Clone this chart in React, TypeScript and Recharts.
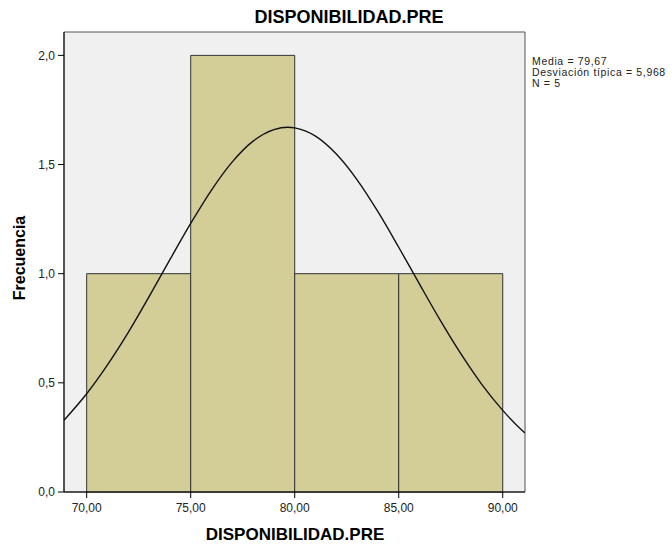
import React from 'react';
import { ComposedChart, Line, XAxis, YAxis, ReferenceArea } from 'recharts';

// Histogram bins (lower bound, upper bound, frequency)
const binStarts = [70, 75, 80, 85];
const binEnds = [75, 80, 85, 90];
const frequencies = [1, 2, 1, 1];

// Normal curve points (x, frequency)
const curveX = [68.91, 70, 71, 72, 73, 74, 75, 76, 77, 78, 79, 79.67, 80, 81, 82, 83, 84, 85, 86, 87, 88, 89, 90, 91, 91.07];
const curveY = [0.329, 0.45, 0.582, 0.731, 0.895, 1.064, 1.23, 1.383, 1.512, 1.607, 1.66, 1.671, 1.668, 1.63, 1.548, 1.43, 1.284, 1.121, 0.952, 0.786, 0.631, 0.492, 0.374, 0.276, 0.27];

const xTicks = [70, 75, 80, 85, 90];
const yTicks = [0, 0.5, 1, 1.5, 2];

const statsLines = ['Media = 79,67', 'Desviación típica = 5,968', 'N = 5'];
const chartTitle = 'DISPONIBILIDAD.PRE';
const xTitle = 'DISPONIBILIDAD.PRE';
const yTitle = 'Frecuencia';

const X_MIN = 68.91;
const X_MAX = 91.07;
const Y_MAX = 2.107;

const FONT = '"Liberation Sans", Arial, sans-serif';

const curveData = curveX.map((x, i) => ({ x, y: curveY[i] }));

export default function App() {
  return (
    <div style={{ position: 'fixed', left: 0, top: 0, width: 672, height: 548, background: '#fff' }}>
      <ComposedChart
        width={672}
        height={548}
        data={curveData}
        margin={{ top: 32, right: 147, bottom: 0, left: 0 }}
      >
        <XAxis
          dataKey="x"
          type="number"
          domain={[X_MIN, X_MAX]}
          allowDataOverflow
          ticks={xTicks}
          tickFormatter={(v: number) => v.toFixed(2).replace('.', ',')}
          height={56}
          tickSize={6}
          tickMargin={5}
          axisLine={{ stroke: '#000' }}
          tickLine={{ stroke: '#000' }}
          tick={{ fill: '#222', fontSize: 12, fontFamily: FONT }}
        />
        <YAxis
          type="number"
          domain={[0, Y_MAX]}
          allowDataOverflow
          ticks={yTicks}
          tickFormatter={(v: number) => v.toFixed(1).replace('.', ',')}
          width={64}
          tickSize={6}
          tickMargin={3}
          axisLine={{ stroke: '#000' }}
          tickLine={{ stroke: '#000' }}
          tick={{ fill: '#222', fontSize: 12, fontFamily: FONT }}
        />
        <ReferenceArea
          x1={X_MIN}
          x2={X_MAX}
          y1={0}
          y2={Y_MAX}
          fill="#F0F0F0"
          fillOpacity={1}
          stroke="#555"
          strokeWidth={1}
          ifOverflow="visible"
        />
        {binStarts.map((s, i) => (
          <ReferenceArea
            key={i}
            x1={s}
            x2={binEnds[i]}
            y1={0}
            y2={frequencies[i]}
            fill="#D3CE97"
            fillOpacity={1}
            stroke="#333"
            strokeWidth={1}
            ifOverflow="visible"
          />
        ))}
        <Line
          dataKey="y"
          type="monotone"
          stroke="#111"
          strokeWidth={1.4}
          dot={false}
          activeDot={false}
          isAnimationActive={false}
        />
      </ComposedChart>
      <svg
        width={672}
        height={548}
        style={{ position: 'absolute', left: 0, top: 0, pointerEvents: 'none' }}
      >
        <text x={349} y={23} fontFamily={FONT} fontWeight="bold" fontSize={18} fill="#000" textAnchor="middle">
          {chartTitle}
        </text>
        <text x={295} y={540} fontFamily={FONT} fontWeight="bold" fontSize={17} fill="#000" textAnchor="middle">
          {xTitle}
        </text>
        <text
          x={25}
          y={258}
          fontFamily={FONT}
          fontWeight="bold"
          fontSize={16}
          fill="#000"
          textAnchor="middle"
          transform="rotate(-90 25 258)"
        >
          {yTitle}
        </text>
        {statsLines.map((t, i) => (
          <text
            key={i}
            x={532}
            y={65 + i * 11}
            fontFamily={FONT}
            fontSize={10.5}
            letterSpacing={0.65}
            fill="#222"
          >
            {t}
          </text>
        ))}
      </svg>
    </div>
  );
}
